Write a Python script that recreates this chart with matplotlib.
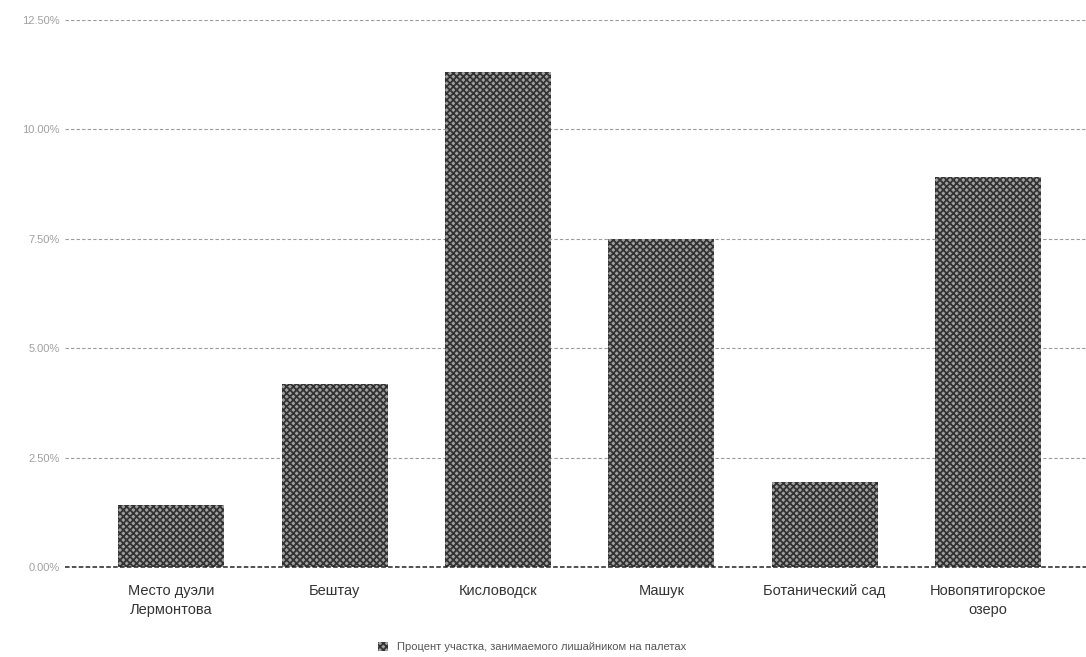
import numpy as np
import matplotlib
matplotlib.use("Agg")
from matplotlib import pyplot as plt
from matplotlib.ticker import FuncFormatter

places = ["Место дуэли\nЛермонтова", "Бештау", "Кисловодск", "Машук",
          "Ботанический сад", "Новопятигорское\nозеро"]
lichen_pct = [1.42, 4.18, 11.31, 7.50, 1.94, 8.91]
y_ticks = [0, 2.5, 5, 7.5, 10, 12.5]
legend_label = "Процент участка, занимаемого лишайником на палетах"

plt.rcParams['font.family'] = ['Liberation Sans', 'DejaVu Sans']
plt.rcParams['hatch.linewidth'] = 1.3
plt.rcParams['hatch.color'] = '#333333'

fig = plt.figure(figsize=(10.86, 6.57), dpi=100)
ax = fig.add_axes([0.06, 0.137, 0.94, 0.833])

x = np.arange(len(places))
bars = ax.bar(x, lichen_pct, width=0.65, color='#a0a0a0', hatch='xxxxx',
              edgecolor='#333333', linewidth=0, label=legend_label, zorder=2)

ax.set_ylim(0, 12.5)
ax.set_xlim(-0.65, 5.6)
ax.set_yticks(y_ticks)
ax.yaxis.set_major_formatter(FuncFormatter(lambda v, p: f"{v:.2f}%"))
ax.set_xticks(x)
ax.set_xticklabels(places, fontsize=10.5, color='#333333', linespacing=1.5)

ax.grid(axis='y', linestyle=(0, (3, 2)), color='#9a9a9a', linewidth=0.8, zorder=0)
ax.axhline(0, color='#222222', linestyle=(0, (3, 1.5)), linewidth=1.1,
           zorder=3, clip_on=False)
for s in ax.spines.values():
    s.set_visible(False)
ax.tick_params(axis='y', length=0, labelsize=8, labelcolor='#a0a0a0', pad=4)
ax.tick_params(axis='x', length=0, pad=12)

fig.legend(handles=[bars], labels=[legend_label], loc='lower center',
           bbox_to_anchor=(0.49, -0.008), frameon=False, fontsize=8,
           labelcolor='#555555', handlelength=0.9, handleheight=0.9,
           handletextpad=0.8)

fig.savefig("out.png", dpi=100)
